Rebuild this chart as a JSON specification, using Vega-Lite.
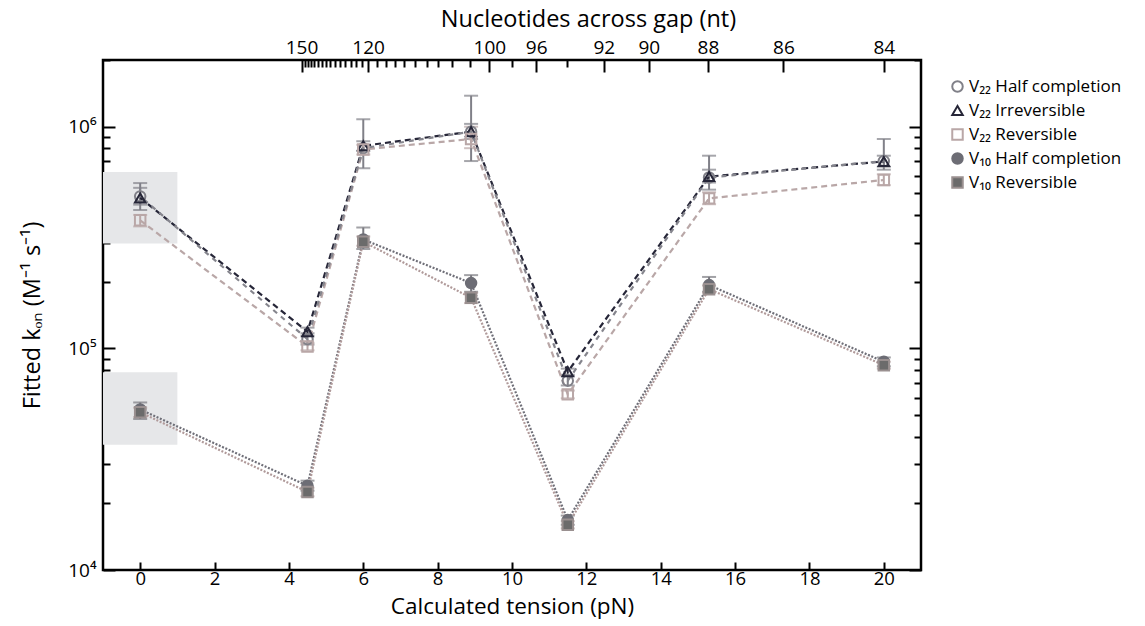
{
  "$schema": "https://vega.github.io/schema/vega-lite/v6.json",
  "width": 818,
  "height": 510,
  "autosize": {"type": "none"},
  "padding": {"left": 103, "top": 60, "right": 224, "bottom": 56},
  "background": "white",
  "config": {
    "font": "Open Sans",
    "view": {"stroke": "black", "strokeWidth": 2.5},
    "axis": {"labelFont": "Open Sans", "titleFont": "Open Sans", "labelFontSize": 19, "titleFontSize": 23.5, "titleFontWeight": "normal", "labelColor": "black", "titleColor": "black", "tickColor": "black", "tickWidth": 2, "domain": false, "grid": false},
    "legend": {"labelFont": "Open Sans", "labelFontSize": 17, "labelColor": "black", "padding": 0, "labelLimit": 400}
  },
  "datasets": {
    "main": [
      {"series": "V₂₂ Half completion", "t": 0, "v": 485000, "lo": 445000, "hi": 530000},
      {"series": "V₂₂ Half completion", "t": 4.5, "v": 110000, "lo": 104000, "hi": 117000},
      {"series": "V₂₂ Half completion", "t": 6, "v": 800000, "lo": 650000, "hi": 1080000},
      {"series": "V₂₂ Half completion", "t": 8.9, "v": 950000, "lo": 700000, "hi": 1380000},
      {"series": "V₂₂ Half completion", "t": 11.5, "v": 71500, "lo": 68000, "hi": 75000},
      {"series": "V₂₂ Half completion", "t": 15.3, "v": 590000, "lo": 520000, "hi": 740000},
      {"series": "V₂₂ Half completion", "t": 20, "v": 700000, "lo": 640000, "hi": 880000},
      {"series": "V₂₂ Irreversible", "t": 0, "v": 477000, "lo": 421000, "hi": 557000},
      {"series": "V₂₂ Irreversible", "t": 4.5, "v": 119000, "lo": 114000, "hi": 124000},
      {"series": "V₂₂ Irreversible", "t": 6, "v": 820000, "lo": 780000, "hi": 860000},
      {"series": "V₂₂ Irreversible", "t": 8.9, "v": 950000, "lo": 880000, "hi": 1030000},
      {"series": "V₂₂ Irreversible", "t": 11.5, "v": 78500, "lo": 76000, "hi": 81000},
      {"series": "V₂₂ Irreversible", "t": 15.3, "v": 596000, "lo": 560000, "hi": 640000},
      {"series": "V₂₂ Irreversible", "t": 20, "v": 697000, "lo": 660000, "hi": 740000},
      {"series": "V₂₂ Reversible", "t": 0, "v": 378000, "lo": 355000, "hi": 400000},
      {"series": "V₂₂ Reversible", "t": 4.5, "v": 102000, "lo": 98000, "hi": 106000},
      {"series": "V₂₂ Reversible", "t": 6, "v": 790000, "lo": 750000, "hi": 830000},
      {"series": "V₂₂ Reversible", "t": 8.9, "v": 880000, "lo": 800000, "hi": 1000000},
      {"series": "V₂₂ Reversible", "t": 11.5, "v": 62000, "lo": 59500, "hi": 64500},
      {"series": "V₂₂ Reversible", "t": 15.3, "v": 475000, "lo": 447000, "hi": 506000},
      {"series": "V₂₂ Reversible", "t": 20, "v": 575000, "lo": 545000, "hi": 610000},
      {"series": "V₁₀ Half completion", "t": 0, "v": 53000, "lo": 48000, "hi": 57000},
      {"series": "V₁₀ Half completion", "t": 4.5, "v": 24000, "lo": 22800, "hi": 25300},
      {"series": "V₁₀ Half completion", "t": 6, "v": 310000, "lo": 281000, "hi": 351000},
      {"series": "V₁₀ Half completion", "t": 8.9, "v": 197000, "lo": 180000, "hi": 214000},
      {"series": "V₁₀ Half completion", "t": 11.5, "v": 16800, "lo": 16000, "hi": 17600},
      {"series": "V₁₀ Half completion", "t": 15.3, "v": 193000, "lo": 180000, "hi": 210000},
      {"series": "V₁₀ Half completion", "t": 20, "v": 87000, "lo": 83000, "hi": 91000},
      {"series": "V₁₀ Reversible", "t": 0, "v": 51500, "lo": 49000, "hi": 54000},
      {"series": "V₁₀ Reversible", "t": 4.5, "v": 22500, "lo": 21500, "hi": 23500},
      {"series": "V₁₀ Reversible", "t": 6, "v": 303000, "lo": 290000, "hi": 320000},
      {"series": "V₁₀ Reversible", "t": 8.9, "v": 169000, "lo": 160000, "hi": 178000},
      {"series": "V₁₀ Reversible", "t": 11.5, "v": 16000, "lo": 15400, "hi": 16600},
      {"series": "V₁₀ Reversible", "t": 15.3, "v": 185000, "lo": 178000, "hi": 192000},
      {"series": "V₁₀ Reversible", "t": 20, "v": 84000, "lo": 81000, "hi": 87000}
    ],
    "boxes": [
      {"x": -1, "x2": 1, "y": 297000, "y2": 624000},
      {"x": -1, "x2": 1, "y": 36700, "y2": 78000}
    ]
  },
  "resolve": {
    "axis": {"x": "independent", "y": "independent"},
    "scale": {"color": "independent", "strokeDash": "independent", "shape": "independent", "fill": "independent", "stroke": "independent"}
  },
  "layer": [
    {
      "data": {"name": "boxes"},
      "mark": {"type": "rect", "color": "#e6e7e9"},
      "encoding": {
        "x": {"field": "x", "type": "quantitative", "scale": {"domain": [-1, 21], "nice": false, "zero": false},
              "axis": {"orient": "bottom", "title": "Calculated tension (pN)", "values": [0, 2, 4, 6, 8, 10, 12, 14, 16, 18, 20], "tickSize": -8, "labelPadding": 7, "labelFontSize": 18.5, "titlePadding": 8, "titleFontSize": 22.5}},
        "x2": {"field": "x2"},
        "y": {"field": "y", "type": "quantitative", "scale": {"type": "log", "domain": [10000, 2000000], "nice": false},
              "axis": {"orient": "left", "title": "Fitted kₒₙ (M⁻¹ s⁻¹)", "values": [10000, 100000, 1000000], "tickSize": -12, "labelPadding": 19, "labelExpr": "datum.value == 10000 ? '10⁴' : datum.value == 100000 ? '10⁵' : '10⁶'", "titlePadding": 23}},
        "y2": {"field": "y2"}
      }
    },
    {
      "data": {"name": "main"},
      "mark": {"type": "point", "opacity": 0},
      "encoding": {
        "x": {"field": "t", "type": "quantitative", "scale": {"domain": [-1, 21], "nice": false, "zero": false},
              "axis": {"orient": "top", "title": "Nucleotides across gap (nt)", "titleX": 485, "values": [4.34, 6.13, 9.39, 10.65, 12.47, 13.68, 15.27, 17.3, 20], "tickSize": -12, "labelPadding": 15, "titlePadding": 7,
                       "labelExpr": "datum.value < 5 ? '150' : datum.value < 7 ? '120' : datum.value < 10 ? '100' : datum.value < 11 ? '96' : datum.value < 13 ? '92' : datum.value < 14 ? '90' : datum.value < 16 ? '88' : datum.value < 18 ? '86' : '84'"}},
        "y": {"field": "v", "type": "quantitative", "scale": {"type": "log", "domain": [10000, 2000000], "nice": false},
              "axis": {"orient": "left", "title": null, "labels": false, "values": [20000, 30000, 40000, 50000, 60000, 70000, 80000, 90000, 200000, 300000, 400000, 500000, 600000, 700000, 800000, 900000, 2000000], "tickSize": -7}}
      }
    },
    {
      "data": {"name": "main"},
      "mark": {"type": "point", "opacity": 0},
      "encoding": {
        "x": {"field": "t", "type": "quantitative", "scale": {"domain": [-1, 21], "nice": false, "zero": false},
              "axis": {"orient": "top", "title": null, "labels": false, "tickSize": -7,
                       "values": [4.42, 4.5, 4.59, 4.68, 4.78, 4.88, 4.99, 5.11, 5.24, 5.37, 5.51, 5.66, 5.81, 5.97, 6.36, 6.61, 6.85, 7.09, 7.39, 7.71, 8.01, 8.38, 8.87, 9.99, 11.49]}},
        "y": {"field": "v", "type": "quantitative", "scale": {"type": "log", "domain": [10000, 2000000], "nice": false},
              "axis": {"orient": "right", "title": null, "labels": false, "values": [10000, 100000, 1000000], "tickSize": -12}}
      }
    },
    {
      "data": {"name": "main"},
      "mark": {"type": "point", "opacity": 0},
      "encoding": {
        "x": {"field": "t", "type": "quantitative", "scale": {"domain": [-1, 21], "nice": false, "zero": false}, "axis": null},
        "y": {"field": "v", "type": "quantitative", "scale": {"type": "log", "domain": [10000, 2000000], "nice": false},
              "axis": {"orient": "right", "title": null, "labels": false, "values": [20000, 30000, 40000, 50000, 60000, 70000, 80000, 90000, 200000, 300000, 400000, 500000, 600000, 700000, 800000, 900000, 2000000], "tickSize": -7}}
      }
    },
    {
      "data": {"name": "main"},
      "mark": {"type": "errorbar", "ticks": {"size": 14, "thickness": 2}, "thickness": 2},
      "encoding": {
        "x": {"field": "t", "type": "quantitative", "scale": {"domain": [-1, 21], "nice": false, "zero": false}, "axis": null},
        "y": {"field": "lo", "type": "quantitative", "scale": {"type": "log", "domain": [10000, 2000000], "nice": false}, "axis": null},
        "y2": {"field": "hi"},
        "color": {"field": "series", "type": "nominal", "legend": null,
                  "scale": {"domain": ["V₂₂ Half completion", "V₂₂ Irreversible", "V₂₂ Reversible", "V₁₀ Half completion", "V₁₀ Reversible"],
                            "range": ["#808088", "#808088", "#b9a7a7", "#7a7a80", "#b5a0a0"]}}
      }
    },
    {
      "data": {"name": "main"},
      "transform": [{"filter": "datum.series != 'V₂₂ Half completion'"}],
      "mark": {"type": "line", "strokeWidth": 2.2},
      "encoding": {
        "x": {"field": "t", "type": "quantitative", "scale": {"domain": [-1, 21], "nice": false, "zero": false}, "axis": null},
        "y": {"field": "v", "type": "quantitative", "scale": {"type": "log", "domain": [10000, 2000000], "nice": false}, "axis": null},
        "color": {"field": "series", "type": "nominal", "legend": null,
                  "scale": {"domain": ["V₂₂ Irreversible", "V₂₂ Reversible", "V₁₀ Half completion", "V₁₀ Reversible"],
                            "range": ["#262638", "#b9a7a7", "#6f6f78", "#b09a9a"]}},
        "strokeDash": {"field": "series", "type": "nominal", "legend": null,
                       "scale": {"domain": ["V₂₂ Irreversible", "V₂₂ Reversible", "V₁₀ Half completion", "V₁₀ Reversible"],
                                 "range": [[6, 4], [6, 4], [2, 1.6], [2, 1.6]]}}
      }
    },
    {
      "data": {"name": "main"},
      "transform": [{"filter": "datum.series == 'V₂₂ Half completion'"}],
      "mark": {"type": "line", "strokeWidth": 2.2, "color": "#85858d", "strokeDash": [5, 5], "strokeDashOffset": 5},
      "encoding": {
        "x": {"field": "t", "type": "quantitative", "scale": {"domain": [-1, 21], "nice": false, "zero": false}, "axis": null},
        "y": {"field": "v", "type": "quantitative", "scale": {"type": "log", "domain": [10000, 2000000], "nice": false}, "axis": null}
      }
    },
    {
      "data": {"name": "main"},
      "mark": {"type": "point", "size": 110, "strokeWidth": 2, "opacity": 1},
      "encoding": {
        "x": {"field": "t", "type": "quantitative", "scale": {"domain": [-1, 21], "nice": false, "zero": false}, "axis": null},
        "y": {"field": "v", "type": "quantitative", "scale": {"type": "log", "domain": [10000, 2000000], "nice": false}, "axis": null},
        "shape": {"field": "series", "type": "nominal",
                  "scale": {"domain": ["V₂₂ Half completion", "V₂₂ Irreversible", "V₂₂ Reversible", "V₁₀ Half completion", "V₁₀ Reversible"],
                            "range": ["circle", "triangle-up", "square", "circle", "square"]},
                  "legend": {"title": null, "orient": "none", "legendX": 846, "legendY": 18, "rowPadding": 5, "symbolSize": 110, "symbolStrokeWidth": 2, "labelOffset": 3}},
        "stroke": {"field": "series", "type": "nominal",
                   "scale": {"domain": ["V₂₂ Half completion", "V₂₂ Irreversible", "V₂₂ Reversible", "V₁₀ Half completion", "V₁₀ Reversible"],
                             "range": ["#808088", "#262638", "#b9a7a7", "#6d6d75", "#9a9090"]}},
        "fill": {"field": "series", "type": "nominal",
                 "scale": {"domain": ["V₂₂ Half completion", "V₂₂ Irreversible", "V₂₂ Reversible", "V₁₀ Half completion", "V₁₀ Reversible"],
                           "range": ["transparent", "transparent", "transparent", "#6d6d75", "#6b6b6b"]}}
      }
    }
  ]
}
